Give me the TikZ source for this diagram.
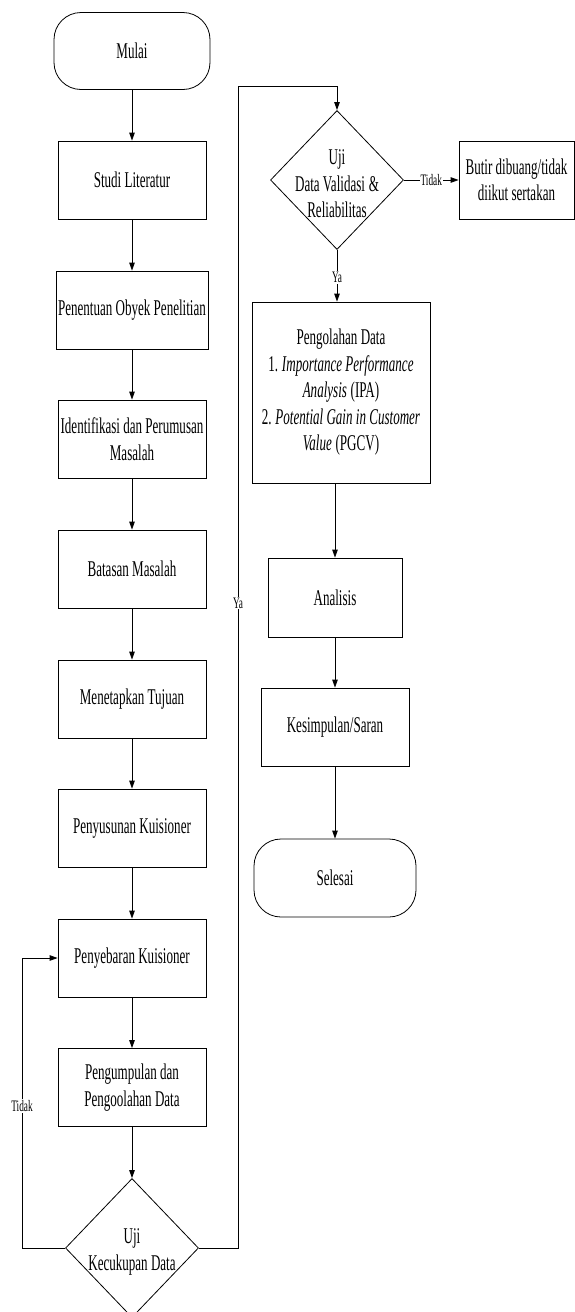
\documentclass[tikz,border=0pt]{standalone}
\usepackage{fontspec}
\setmainfont[FakeStretch=0.58]{Liberation Serif}
\usetikzlibrary{arrows.meta,shapes.geometric}
\begin{document}
\begin{tikzpicture}[x=1pt,y=1pt,
  every node/.style={font=\fontsize{22.5}{26.5}\selectfont},
  box/.style={draw, line width=0.8pt, rectangle, minimum width=148pt, minimum height=78pt, align=center, inner sep=2pt},
  term/.style={draw, line width=0.8pt, rounded corners=27pt, minimum width=156pt, minimum height=77pt},
  diam/.style={draw, line width=0.8pt, diamond, inner sep=0pt, minimum width=133pt, minimum height=139pt},
  txt/.style={align=center, inner sep=0pt},
  lbl/.style={font=\fontsize{16}{18}\selectfont, fill=white, inner sep=1pt},
  arr/.style={-{Triangle[length=8pt,width=5.5pt]}, line width=0.8pt},
  ln/.style={line width=0.8pt}]
\useasboundingbox (0,0) rectangle (575,-1312);
\clip (0,0) rectangle (575,-1312);
% left column
\node[term] (mulai) at (132,-51) {Mulai};
\node[box] (studi) at (132,-180) {Studi Literatur};
\node[box] (obyek) at (132,-310) {Penentuan Obyek Penelitian};
\node[box] (ident) at (132,-439) {Identifikasi dan Perumusan\\Masalah};
\node[box] (batas) at (132,-569) {Batasan Masalah};
\node[box] (tujuan) at (132,-699) {Menetapkan Tujuan};
\node[box] (susun) at (132,-828) {Penyusunan Kuisioner};
\node[box] (sebar) at (132,-958) {Penyebaran Kuisioner};
\node[box] (kumpul) at (132,-1087.5) {Pengumpulan dan\\Pengoolahan Data};
\node[diam] (uji1) at (132,-1248) {};
\node[txt] (uji1t) at (132,-1252) {Uji\\Kecukupan Data};
% right column
\node[diam] (valid) at (337,-180) {};
\node[txt] (validt) at (337,-184) {Uji\\Data Validasi\,\&\\Reliabilitas};
\node[box, minimum width=115pt] (butir) at (516.5,-180) {Butir dibuang/tidak\\diikut sertakan};
\node[box, minimum width=178pt, minimum height=181pt] (olah) at (341,-392.5) {Pengolahan Data\\1.\,\textit{Importance Performance}\\\textit{Analysis}\,(IPA)\\2.\,\textit{Potential Gain in Customer}\\\textit{Value}\,(PGCV)};
\node[box, minimum width=134pt, minimum height=79pt] (anal) at (335,-597.5) {Analisis};
\node[box] (kesim) at (335,-727) {Kesimpulan/Saran};
\node[term, minimum width=162pt, minimum height=78pt] (selesai) at (335,-878) {Selesai};
% coordinates
\coordinate (lbot) at (22,-1248);
\coordinate (ltop) at (22,-958);
\coordinate (rbot) at (238,-1248);
\coordinate (rtop) at (238,-86);
\coordinate (vtop) at (337,-86);
% connectors
\draw[arr] (mulai.south) -- (studi.north);
\draw[arr] (studi.south) -- (obyek.north);
\draw[arr] (obyek.south) -- (ident.north);
\draw[arr] (ident.south) -- (batas.north);
\draw[arr] (batas.south) -- (tujuan.north);
\draw[arr] (tujuan.south) -- (susun.north);
\draw[arr] (susun.south) -- (sebar.north);
\draw[arr] (sebar.south) -- (kumpul.north);
\draw[arr] (kumpul.south) -- (uji1.north);
\draw[arr] (uji1.west) -- (lbot) -- node[lbl, pos=0.49] {Tidak} (ltop) -- (sebar.west);
\draw[arr] (uji1.east) -- (rbot) -- node[lbl, pos=0.555] {Ya} (rtop) -- (vtop) -- (valid.north);
\draw[arr] (valid.east) -- node[lbl] {Tidak} (butir.west);
\draw[arr] (valid.south) -- node[lbl, pos=0.53] {Ya} (valid.south |- olah.north);
\draw[arr] (anal.north |- olah.south) -- (anal.north);
\draw[arr] (anal.south) -- (kesim.north);
\draw[arr] (kesim.south) -- (selesai.north);
\end{tikzpicture}
\end{document}
